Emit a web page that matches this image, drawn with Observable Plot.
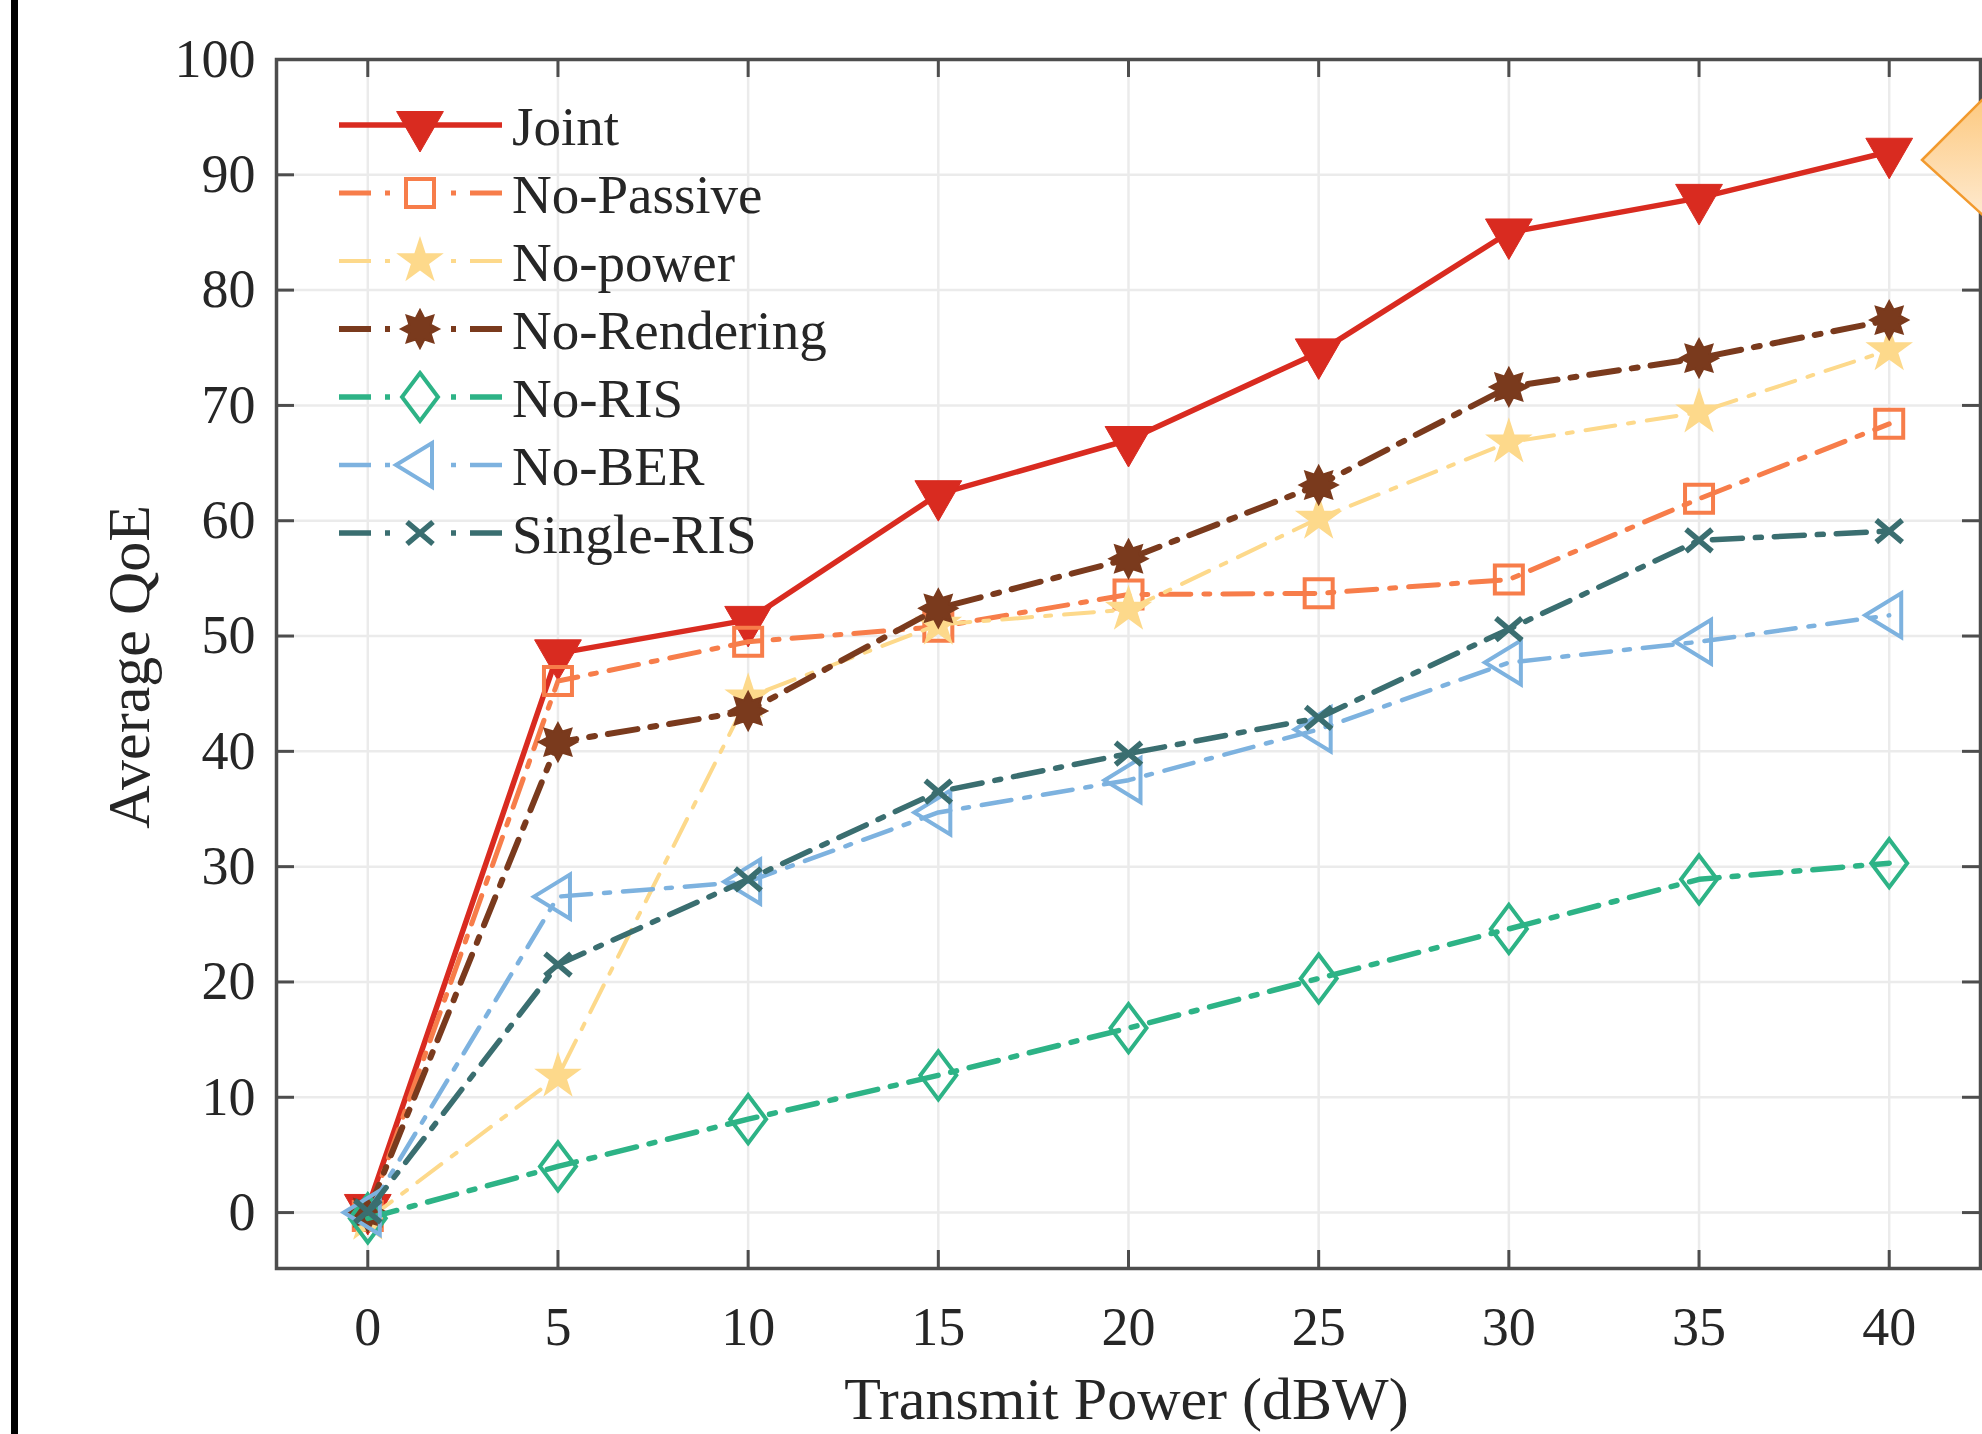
<!DOCTYPE html>
<html>
<head>
<meta charset="utf-8">
<script src="https://cdn.jsdelivr.net/npm/d3@7"></script>
<script src="https://cdn.jsdelivr.net/npm/@observablehq/plot@0.6"></script>
<style>
  html, body { margin: 0; padding: 0; background: #fff; }
  #wrap { position: relative; width: 1982px; height: 1434px; overflow: hidden; background: #fff; }
  #chart { position: absolute; left: 0; top: 0; }
  #bar { position: absolute; left: 11px; top: 0; width: 7px; height: 1434px; background: #000; }
  #callout { position: absolute; left: 0; top: 0; pointer-events: none; }
</style>
</head>
<body>
<div id="wrap">
  <div id="chart"></div>
  <div id="bar"></div>
  <svg id="callout" width="1982" height="1434">
    <defs>
      <linearGradient id="cg" x1="0" y1="0" x2="0" y2="1">
        <stop offset="0" stop-color="#FDC97F"/>
        <stop offset="1" stop-color="#FEEAD0"/>
      </linearGradient>
    </defs>
    <polygon points="1922,160 1986,96 1986,218" fill="url(#cg)" stroke="#F29A2E" stroke-width="2.5"/>
  </svg>
</div>
<script>
// ---- data ----
const power = [0, 5, 10, 15, 20, 25, 30, 35, 40];
const joint       = [0.4, 48.5, 51.4, 62.3, 67.0, 74.6, 85.0, 88.0, 92.0];
const noPassive   = [-0.3, 46.1, 49.5, 50.8, 53.6, 53.7, 54.9, 61.9, 68.4];
const noPower     = [-0.6, 11.8, 44.7, 51.0, 52.3, 60.2, 66.8, 69.4, 74.8];
const noRendering = [0.0, 40.8, 43.5, 52.4, 56.7, 63.1, 71.6, 74.1, 77.4];
const noRIS       = [-0.5, 4.0, 8.1, 11.9, 16.0, 20.3, 24.6, 28.9, 30.3];
const noBER       = [0.0, 27.4, 28.7, 34.7, 37.5, 41.9, 47.7, 49.5, 51.8];
const singleRIS   = [0.1, 21.5, 28.9, 36.5, 39.8, 42.9, 50.6, 58.3, 59.1];
const schemeNames = ["Joint", "No-Passive", "No-power", "No-Rendering", "No-RIS", "No-BER", "Single-RIS"];
const xTicks = [0, 5, 10, 15, 20, 25, 30, 35, 40];
const yTicks = [0, 10, 20, 30, 40, 50, 60, 70, 80, 90, 100];
const xLabel = "Transmit Power (dBW)";
const yLabel = "Average QoE";

// ---- marker shapes ----
const triDown = {draw(c) { const R = 27; c.moveTo(0, R); c.lineTo(-R * 0.866, -R / 2); c.lineTo(R * 0.866, -R / 2); c.closePath(); }};
const square = {draw(c) { const a = 14; c.moveTo(-a, -a); c.lineTo(a, -a); c.lineTo(a, a); c.lineTo(-a, a); c.closePath(); }};
const star5 = {draw(c) {
  const R = 25, r = R * 0.382;
  for (let i = 0; i < 10; i++) { const rr = i % 2 ? r : R; const a = -Math.PI / 2 + i * Math.PI / 5;
    const x = rr * Math.cos(a), y = rr * Math.sin(a); i ? c.lineTo(x, y) : c.moveTo(x, y); }
  c.closePath(); }};
const sun = {draw(c) {
  const R = 19, r = 11.5, n = 8;
  for (let i = 0; i < 2 * n; i++) { const rr = i % 2 ? r : R; const a = -Math.PI / 2 + i * Math.PI / n;
    const x = rr * Math.cos(a), y = rr * Math.sin(a); i ? c.lineTo(x, y) : c.moveTo(x, y); }
  c.closePath(); }};
const diamond = {draw(c) { c.moveTo(0, -24); c.lineTo(18, 0); c.lineTo(0, 24); c.lineTo(-18, 0); c.closePath(); }};
const triLeft = {draw(c) { c.moveTo(-24, 0); c.lineTo(12, -22); c.lineTo(12, 22); c.closePath(); }};
const cross = {draw(c) { c.moveTo(-13, -11); c.lineTo(13, 11); c.moveTo(-13, 11); c.lineTo(13, -11); }};

const seriesValues = [joint, noPassive, noPower, noRendering, noRIS, noBER, singleRIS];
const styles = [
  {color: "#D92B20", dash: null, lw: 5.5, symbol: triDown, filled: true, mw: 1},
  {color: "#F77D4A", dash: "30,13,6,13", lw: 5, symbol: square, filled: false, mw: 4},
  {color: "#FDD98B", dash: "30,13,6,13", lw: 4, symbol: star5, filled: true, mw: 0},
  {color: "#7A3A1D", dash: "30,13,6,13", lw: 6, symbol: sun, filled: true, mw: 2},
  {color: "#2DB386", dash: "30,13,6,13", lw: 5.5, symbol: diamond, filled: false, mw: 4},
  {color: "#7DB2DF", dash: "30,13,6,13", lw: 4.5, symbol: triLeft, filled: false, mw: 4},
  {color: "#3A6E70", dash: "30,13,6,13", lw: 5.5, symbol: cross, filled: false, mw: 5.5}
];

const table = [];
schemeNames.forEach((name, k) => power.forEach((p, i) => table.push({scheme: name, power: p, qoe: seriesValues[k][i]})));

const W = 1982, H = 1434, mL = 276, mR = 2, mT = 59, mB = 166;
const plotW = W - mL - mR, plotH = H - mT - mB;
const tickLen = 18;
const axisColor = "#4d4d4d";
const font = "'Liberation Serif', 'Times New Roman', Times, serif";

const seriesMarks = [];
schemeNames.forEach((name, k) => {
  const s = styles[k];
  const rows = table.filter(d => d.scheme === name);
  seriesMarks.push(Plot.line(rows, {x: "power", y: "qoe", stroke: s.color, strokeWidth: s.lw,
    strokeDasharray: s.dash || undefined, strokeLinejoin: "round"}));
  seriesMarks.push(Plot.dot(rows, {x: "power", y: "qoe", symbol: s.symbol,
    fill: s.filled ? s.color : "none", stroke: s.color, strokeWidth: s.mw || 0.01, strokeOpacity: s.mw ? 1 : 0}));
});

const plot = Plot.plot({
  width: W, height: H,
  marginLeft: mL, marginRight: mR, marginTop: mT, marginBottom: mB,
  style: {fontFamily: font, fontSize: "54px", color: "#262626", background: "white", overflow: "visible"},
  x: {domain: [-2.4, 42.4]},
  y: {domain: [-4.85, 100]},
  marks: [
    Plot.gridX(xTicks, {stroke: "#ebebeb", strokeOpacity: 1, strokeWidth: 2.5}),
    Plot.gridY(yTicks, {stroke: "#ebebeb", strokeOpacity: 1, strokeWidth: 2.5}),
    Plot.ruleX(xTicks, {insetTop: plotH - tickLen, stroke: axisColor, strokeWidth: 3}),
    Plot.ruleX(xTicks, {insetBottom: plotH - tickLen, stroke: axisColor, strokeWidth: 3}),
    Plot.ruleY(yTicks, {insetRight: plotW - tickLen, stroke: axisColor, strokeWidth: 3}),
    Plot.ruleY(yTicks, {insetLeft: plotW - tickLen, stroke: axisColor, strokeWidth: 3}),
    Plot.axisX(xTicks, {tickSize: 0, tickPadding: 38, fontSize: 54, label: null}),
    Plot.axisY(yTicks, {tickSize: 0, tickPadding: 21, fontSize: 54, label: null}),
    Plot.text([xLabel], {frameAnchor: "bottom", text: d => d, dy: 150, dx: -2, lineAnchor: "bottom", fontSize: 60, fill: "#262626"}),
    Plot.text([yLabel], {frameAnchor: "left", text: d => d, dx: -128, dy: 3, rotate: -90, lineAnchor: "bottom", textAnchor: "middle", fontSize: 60, fill: "#262626"}),
    ...seriesMarks,
    Plot.frame({stroke: axisColor, strokeWidth: 3.5})
  ]
});

// ---- legend (inside the axes, top-left) ----
const svg = d3.select(plot);
const lg = svg.append("g").attr("class", "legend").attr("text-anchor", "start");
schemeNames.forEach((name, k) => {
  const s = styles[k];
  const y = 125 + k * 68;
  if (!s.dash) {
    lg.append("line").attr("x1", 339).attr("x2", 502).attr("y1", y).attr("y2", y)
      .attr("stroke", s.color).attr("stroke-width", s.lw);
  } else {
    lg.append("line").attr("x1", 339).attr("x2", 392).attr("y1", y).attr("y2", y)
      .attr("stroke", s.color).attr("stroke-width", s.lw).attr("stroke-dasharray", "32,14,5,100");
    lg.append("line").attr("x1", 502).attr("x2", 448).attr("y1", y).attr("y2", y)
      .attr("stroke", s.color).attr("stroke-width", s.lw).attr("stroke-dasharray", "32,14,5,100");
  }
  lg.append("path").attr("transform", `translate(420,${y})`).attr("d", d3.symbol(s.symbol)())
    .attr("fill", s.filled ? s.color : "none").attr("stroke", s.mw ? s.color : "none").attr("stroke-width", s.mw);
  lg.append("text").attr("x", 512).attr("y", y + 20).attr("text-anchor", "start")
    .attr("font-family", font).attr("font-size", 55).attr("fill", "#262626").text(name);
});

document.getElementById("chart").appendChild(plot);
</script>
</body>
</html>
